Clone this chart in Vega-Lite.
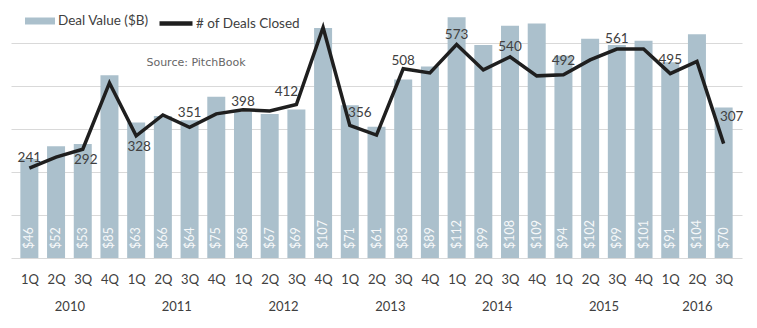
{
  "$schema": "https://vega.github.io/schema/vega-lite/v6.json",
  "width": 731,
  "height": 257,
  "padding": {"left": 11, "top": 1, "right": 15, "bottom": 5},
  "background": "white",
  "config": {"view": {"stroke": null}, "font": "Lato"},
  "data": {"values": [
    {"i": 1, "q": "1Q", "year": 2010, "value": 46, "deals": 241},
    {"i": 2, "q": "2Q", "year": 2010, "value": 52, "deals": 271},
    {"i": 3, "q": "3Q", "year": 2010, "value": 53, "deals": 292},
    {"i": 4, "q": "4Q", "year": 2010, "value": 85, "deals": 470},
    {"i": 5, "q": "1Q", "year": 2011, "value": 63, "deals": 328},
    {"i": 6, "q": "2Q", "year": 2011, "value": 66, "deals": 384},
    {"i": 7, "q": "3Q", "year": 2011, "value": 64, "deals": 351},
    {"i": 8, "q": "4Q", "year": 2011, "value": 75, "deals": 387},
    {"i": 9, "q": "1Q", "year": 2012, "value": 68, "deals": 398},
    {"i": 10, "q": "2Q", "year": 2012, "value": 67, "deals": 395},
    {"i": 11, "q": "3Q", "year": 2012, "value": 69, "deals": 412},
    {"i": 12, "q": "4Q", "year": 2012, "value": 107, "deals": 619},
    {"i": 13, "q": "1Q", "year": 2013, "value": 71, "deals": 356},
    {"i": 14, "q": "2Q", "year": 2013, "value": 61, "deals": 330},
    {"i": 15, "q": "3Q", "year": 2013, "value": 83, "deals": 508},
    {"i": 16, "q": "4Q", "year": 2013, "value": 89, "deals": 497},
    {"i": 17, "q": "1Q", "year": 2014, "value": 112, "deals": 573},
    {"i": 18, "q": "2Q", "year": 2014, "value": 99, "deals": 505},
    {"i": 19, "q": "3Q", "year": 2014, "value": 108, "deals": 540},
    {"i": 20, "q": "4Q", "year": 2014, "value": 109, "deals": 489},
    {"i": 21, "q": "1Q", "year": 2015, "value": 94, "deals": 492},
    {"i": 22, "q": "2Q", "year": 2015, "value": 102, "deals": 532},
    {"i": 23, "q": "3Q", "year": 2015, "value": 99, "deals": 561},
    {"i": 24, "q": "4Q", "year": 2015, "value": 101, "deals": 561},
    {"i": 25, "q": "1Q", "year": 2016, "value": 91, "deals": 495},
    {"i": 26, "q": "2Q", "year": 2016, "value": 104, "deals": 528},
    {"i": 27, "q": "3Q", "year": 2016, "value": 70, "deals": 307}
  ]},
  "resolve": {"scale": {"y": "independent"}, "axis": {"x": "independent"}},
  "layer": [
    {
      "encoding": {
        "x": {"field": "i", "type": "quantitative",
          "scale": {"domain": [0.5, 27.5], "nice": false, "zero": false},
          "axis": {"values": [1,2,3,4,5,6,7,8,9,10,11,12,13,14,15,16,17,18,19,20,21,22,23,24,25,26,27],
            "labelExpr": "['4Q','1Q','2Q','3Q'][datum.value % 4]",
            "orient": "bottom", "title": null, "ticks": false, "tickSize": 0, "domain": false, "grid": false,
            "labelPadding": 15, "labelFont": "Lato", "labelFontSize": 13, "labelColor": "#404040",
            "labelFlush": false, "labelOverlap": false}}
      },
      "layer": [
        {
          "mark": {"type": "bar", "size": 18},
          "encoding": {
            "y": {"field": "value", "type": "quantitative",
              "scale": {"domain": [0, 119.5], "nice": false},
              "axis": {"title": null, "labels": false, "ticks": false, "domain": false,
                "values": [0, 20, 40, 60, 80, 100], "gridColor": "#d9d9d9", "gridWidth": 1}},
            "fill": {"datum": "Deal Value ($B)", "type": "nominal",
              "scale": {"range": ["#abc0cc"]},
              "legend": {"title": null, "orient": "none", "legendX": 19, "legendY": 10, "padding": 0,
                "symbolType": "M-1.5,-0.35H1.5V0.35H-1.5Z", "symbolSize": 400, "symbolStrokeWidth": 0,
                "labelOffset": 8, "labelFont": "Lato", "labelFontSize": 13.5, "labelColor": "#404040"}}
          }
        },
        {
          "mark": {"type": "text", "angle": 270, "align": "left", "baseline": "middle", "dx": 9,
            "font": "Lato", "fontSize": 12.5, "color": "#ffffff", "opacity": 0.9},
          "encoding": {
            "y": {"datum": 0, "type": "quantitative"},
            "text": {"field": "value", "type": "quantitative", "format": "$.0f"}
          }
        },
        {
          "transform": [{"filter": "datum.i == 1"}],
          "mark": {"type": "text", "font": "DejaVu Sans", "fontSize": 11, "color": "#666666"},
          "encoding": {
            "x": {"datum": 7.24, "type": "quantitative"},
            "y": {"datum": 90.5, "type": "quantitative"},
            "text": {"value": "Source: PitchBook"}
          }
        }
      ]
    },
    {
      "encoding": {
        "x": {"field": "i", "type": "quantitative",
          "scale": {"domain": [0.5, 27.5], "nice": false, "zero": false},
          "axis": {"values": [2.5, 6.5, 10.5, 14.5, 18.5, 22.5, 26],
            "labelExpr": "'' + (2010 + floor((datum.value - 1) / 4))",
            "orient": "bottom", "title": null, "ticks": false, "tickSize": 0, "domain": false, "grid": false,
            "labelPadding": 42, "labelFont": "Lato", "labelFontSize": 13, "labelColor": "#404040",
            "labelFlush": false, "labelOverlap": false}},
        "y": {"field": "deals", "type": "quantitative",
          "scale": {"domain": [0, 690], "nice": false}, "axis": null}
      },
      "layer": [
        {
          "mark": {"type": "line", "strokeWidth": 3.5, "strokeJoin": "miter"},
          "encoding": {
            "stroke": {"datum": "# of Deals Closed", "type": "nominal",
              "scale": {"range": ["#1f1f1f"]},
              "legend": {"title": null, "orient": "none", "legendX": 146, "legendY": 3.5, "padding": 0,
                "symbolType": "stroke", "symbolSize": 1089, "symbolStrokeWidth": 4.5,
                "labelOffset": 1, "labelFont": "Lato", "labelFontSize": 13.5, "labelColor": "#404040"}}
          }
        },
        {
          "transform": [{"filter": {"field": "i", "oneOf": [1, 17, 19, 23]}}],
          "mark": {"type": "text", "dy": -10, "font": "Lato", "fontSize": 13.5, "color": "#404040"},
          "encoding": {"text": {"field": "deals", "type": "quantitative", "format": "d"}}
        },
        {
          "transform": [{"filter": {"field": "i", "oneOf": [7, 21, 25]}}],
          "mark": {"type": "text", "dy": -14, "font": "Lato", "fontSize": 13.5, "color": "#404040"},
          "encoding": {"text": {"field": "deals", "type": "quantitative", "format": "d"}}
        },
        {
          "transform": [{"filter": {"field": "i", "oneOf": [9, 15]}}],
          "mark": {"type": "text", "dy": -8, "font": "Lato", "fontSize": 13.5, "color": "#404040"},
          "encoding": {"text": {"field": "deals", "type": "quantitative", "format": "d"}}
        },
        {
          "transform": [{"filter": {"field": "i", "oneOf": [3, 5]}}],
          "mark": {"type": "text", "dy": 11, "dx": 3, "font": "Lato", "fontSize": 13.5, "color": "#404040"},
          "encoding": {"text": {"field": "deals", "type": "quantitative", "format": "d"}}
        },
        {
          "transform": [{"filter": {"field": "i", "oneOf": [11]}}],
          "mark": {"type": "text", "dy": -13, "dx": -10, "font": "Lato", "fontSize": 13.5, "color": "#404040"},
          "encoding": {"text": {"field": "deals", "type": "quantitative", "format": "d"}}
        },
        {
          "transform": [{"filter": {"field": "i", "oneOf": [13]}}],
          "mark": {"type": "text", "dy": -12, "dx": 10, "font": "Lato", "fontSize": 13.5, "color": "#404040"},
          "encoding": {"text": {"field": "deals", "type": "quantitative", "format": "d"}}
        },
        {
          "transform": [{"filter": {"field": "i", "oneOf": [27]}}],
          "mark": {"type": "text", "dy": -27, "dx": 8, "font": "Lato", "fontSize": 13.5, "color": "#404040"},
          "encoding": {"text": {"field": "deals", "type": "quantitative", "format": "d"}}
        }
      ]
    }
  ]
}
